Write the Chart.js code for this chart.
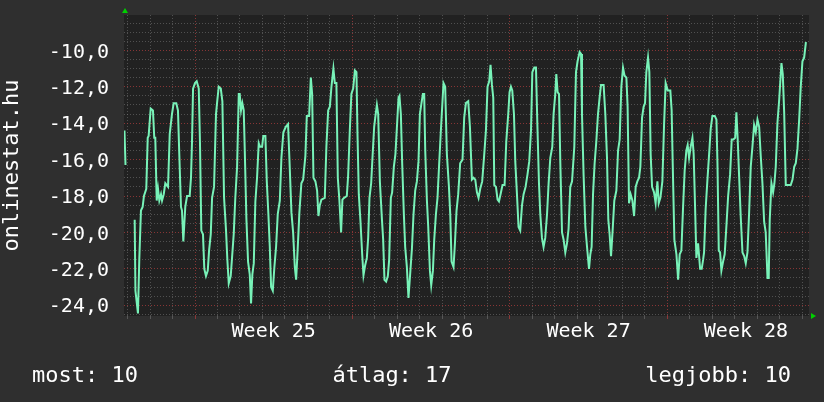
<!DOCTYPE html>
<html>
<head>
<meta charset="utf-8">
<title>onlinestat.hu</title>
<script src="https://cdn.jsdelivr.net/npm/chart.js"></script>
<style>
  html, body { margin: 0; padding: 0; background: #2f2f2f; }
  canvas { display: block; }
</style>
</head>
<body>
<canvas id="chart" width="824" height="402"></canvas>
<script>
/* === DONNEES (heures depuis le debut de la semaine 25) === */
const hours = [
  -75.3, -74.2, -73.5, -64.4, -63.6, -60.9, -59.5, -57.7, -55.9, -54.5, -52.0, -50.5, -49.5, -47.3, -44.9, -43.5,
  -42.4, -40.9, -39.5, -38.1, -36.3, -35.2, -33.4, -31.7, -28.8, -27.0, -24.6, -22.8, -20.0, -18.2, -16.8, -15.0,
  -13.9, -12.5, -10.4, -8.5, -5.7, -4.3, -3.2, -2.1, 0, 1.8, 4.0, 5.3, 6.7, 8.5, 9.9, 11.7,
  13.6, 15.0, 16.8, 18.2, 20.3, 22.4, 23.5, 25.3, 27.5, 29.2, 31.0, 33.1, 34.5, 36.0, 38.1, 39.5,
  41.3, 43.0, 44.9, 46.7, 47.7, 49.1, 50.5, 52.0, 53.1, 54.8, 56.6, 58.4, 59.8, 61.2, 62.7, 64.4,
  66.2, 68.0, 69.4, 71.6, 72.9, 75.1, 76.6, 78.3, 79.8, 81.2, 83.0, 84.7, 86.5, 88.3, 90.5, 92.2,
  94.3, 96.9, 99.3, 100.7, 102.9, 104.7, 106.5, 107.9, 109.3, 111.4, 113.5, 115.4, 117.8, 119.3, 121.8, 123.6,
  125.0, 126.4, 128.5, 130.3, 131.7, 133.2, 134.9, 138.5, 140.2, 142.1, 143.9, 145.6, 147.7, 149.2, 150.9, 152.4,
  154.1, 155.9, 157.3, 159.1, 162.0, 163.4, 165.2, 166.9, 168.8, 170.6, 172.3, 173.4, 174.8, 176.6, 178.4, 179.8,
  181.6, 183.4, 184.8, 186.2, 188.0, 189.4, 191.2, 192.6, 194.1, 195.5, 197.3, 199.4, 200.8, 202.2, 204.0, 205.8,
  207.2, 209.0, 210.4, 212.2, 213.9, 215.4, 217.2, 218.2, 219.7, 221.1, 222.9, 224.3, 226.1, 227.8, 229.6, 231.5,
  233.2, 235.0, 236.8, 238.5, 240.0, 241.7, 243.2, 244.6, 245.7, 247.5, 248.9, 250.7, 252.1, 253.9, 255.3, 257.1,
  258.8, 260.6, 262.4, 263.8, 265.2, 267.0, 268.8, 271.0, 272.4, 273.8, 275.9, 277.4, 279.1, 280.9, 283.0, 285.5,
  287.3, 289.1, 291.6, 293.4, 294.5, 295.5, 297.3, 299.1, 300.9, 302.6, 304.4, 306.5, 308.7, 310.5, 312.2, 314.0,
  315.4, 316.9, 318.3, 319.4, 321.2, 322.9, 324.4, 326.1, 328.2, 330.4, 332.2, 334.3, 335.7, 337.2, 338.6, 340.4,
  341.8, 343.6, 345.3, 347.1, 349.0, 350.7, 352.8, 354.9, 356.7, 358.6, 360.0, 362.1, 363.9, 365.3, 367.1, 368.5,
  370.3, 372.0, 373.8, 375.7, 377.4, 379.2, 381.3, 382.7, 384.5, 385.6, 387.0, 388.5, 389.9, 391.7, 393.4, 395.2,
  397.0, 398.7, 400.5, 402.4, 404.8, 406.6, 408.3, 410.5, 412.0, 413.0, 414.7, 416.6, 418.4, 420.5, 421.9, 423.3,
  424.8, 426.5, 428.3, 430.1, 431.8, 433.3, 436.1, 437.9, 439.7, 441.1, 442.5, 444.0, 445.7, 447.5, 449.7, 451.5,
  453.2, 455.0, 456.8, 458.5, 460.4, 461.7, 463.2, 464.9, 466.8, 468.6, 470.3, 472.1, 473.9, 475.3, 477.1, 478.8,
  480.3, 481.7, 483.5, 484.9, 486.3, 487.8, 489.9, 491.6, 493.5, 494.9, 496.7, 498.8, 500.6, 502.3, 504.5, 507.3,
  508.7, 509.8, 511.6, 513.8, 515.6, 517.3, 519.1, 520.9, 522.6, 524.4, 525.8, 527.3, 529.0, 530.9, 532.2, 533.7,
  535.1, 536.9, 539.1, 540.8, 542.3, 543.3, 545.0, 546.9, 548.7, 550.4, 552.2, 554.7, 556.5, 557.6, 559.0, 560.4,
  561.8, 563.6, 565.3, 567.2, 569.0, 571.1, 572.8, 574.6, 576.5, 577.8, 579.2, 580.7, 582.4, 584.3, 586.1, 587.8,
  589.6, 591.4, 593.1, 594.9, 596.7, 598.5, 600.3, 602.1, 603.8, 605.6, 607.4, 609.1, 611.0, 612.3, 613.4, 615.2,
  617.0, 618.4, 619.8, 621.6, 623.5, 624.8, 625.9, 627.3, 628.8, 630.5, 632.3, 634.1, 635.8, 637.7, 639.5, 641.2,
  643.0, 644.8, 646.5, 648.3, 650.1, 651.9, 652.9
];

const values = [
  -14.4, -16.3, null, -19.3, -23.2, -24.45, -21.5, -18.8, -18.6, -18.0, -17.6, -14.8, -14.7, -13.2, -13.3, -14.8,
  -14.8, -18.25, -17.6, -18.25, -17.9, -18.25, -17.9, -17.3, -17.5, -14.6, -13.5, -12.9, -12.9, -13.3, -15.7, -18.6,
  -18.8, -20.5, -18.6, -18.0, -18.0, -17.0, -15.0, -12.1, -11.8, -11.7, -12.1, -15.1, -19.9, -20.1, -22.0, -22.4,
  -22.1, -21.0, -20.1, -18.1, -17.5, -13.5, -12.9, -12.0, -12.1, -12.8, -18.1, -19.9, -21.5, -22.8, -22.4, -21.4,
  -20.1, -18.1, -16.4, -12.4, -12.4, -13.3, -12.9, -13.3, -15.5, -19.2, -21.6, -22.3, -23.9, -22.3, -21.7, -18.3,
  -17.0, -15.1, -15.3, -15.3, -14.7, -14.7, -17.2, -19.0, -20.8, -23.0, -23.2, -21.9, -20.8, -19.0, -18.25, -15.9,
  -14.5, -14.2, -14.05, -15.9, -18.9, -20.0, -21.9, -22.6, -21.2, -18.9, -17.3, -17.1, -15.8, -13.6, -13.6, -11.5,
  -12.4, -17.0, -17.2, -17.7, -19.1, -18.5, -18.2, -18.1, -15.3, -13.3, -13.1, -12.0, -11.0, -11.8, -11.8, -17.0,
  -18.25, -20.0, -18.2, -18.1, -18.0, -16.9, -14.4, -12.4, -12.1, -11.1, -11.2, -14.6, -17.9, -19.4, -21.2, -22.35,
  -21.8, -21.4, -20.3, -18.1, -17.3, -15.9, -14.2, -13.6, -13.0, -13.5, -17.2, -19.2, -20.4, -22.6, -22.7, -22.4,
  -21.5, -18.1, -17.8, -16.4, -15.7, -14.3, -12.6, -12.5, -13.5, -16.2, -19.0, -20.8, -21.9, -23.6, -22.3, -20.9,
  -19.0, -17.7, -17.2, -16.1, -13.5, -12.9, -12.4, -12.4, -15.5, -18.25, -19.7, -22.1, -22.9, -22.1, -20.4, -19.0,
  -18.1, -16.2, -14.4, -13.1, -11.8, -12.0, -15.7, -17.5, -19.0, -21.6, -21.9, -20.6, -18.8, -17.9, -16.2, -16.0,
  -13.7, -12.9, -12.8, -14.2, -15.7, -17.1, -17.0, -17.1, -17.8, -18.1, -17.6, -17.2, -15.7, -14.4, -12.0, -11.7,
  -10.8, -11.9, -12.6, -17.4, -17.5, -18.2, -18.3, -17.9, -17.4, -17.4, -15.0, -13.5, -12.3, -12.0, -12.2, -13.5,
  -16.1, -17.9, -19.7, -19.9, -18.5, -17.9, -17.5, -16.8, -16.1, -14.4, -11.2, -10.95, -10.95, -13.9, -17.3, -19.0,
  -20.3, -20.8, -20.3, -19.0, -17.3, -15.9, -15.3, -13.5, -12.4, -11.3, -12.3, -12.4, -16.2, -20.0, -20.4, -21.1,
  -20.6, -19.8, -17.5, -17.2, -15.3, -11.2, -10.6, -10.1, -10.2, -13.5, -16.8, -19.7, -20.8, -22.0, -21.2, -20.8,
  -17.9, -16.2, -15.0, -13.5, -12.6, -11.9, -11.9, -13.5, -15.9, -19.3, -20.1, -21.3, -19.9, -18.25, -17.7, -15.5,
  -14.9, -12.0, -10.95, -11.4, -11.5, -13.1, -18.4, -17.9, -18.25, -19.1, -17.5, -17.2, -17.0, -16.4, -13.7, -13.1,
  -12.9, -11.2, -10.4, -11.2, -15.7, -17.5, -17.8, -18.4, -17.2, -18.4, -18.1, -17.2, -14.1, -11.8, -12.2, -12.2,
  -13.3, -16.1, -20.4, -21.2, -22.6, -21.2, -21.0, -18.6, -16.6, -15.5, -15.2, -15.9, -15.3, -14.8, -15.7, -18.6,
  -21.4, -20.6, -22.0, -22.0, -21.5, -21.1, -18.7, -17.1, -15.7, -14.3, -13.6, -13.6, -13.8, -16.2, -21.0, -21.1,
  -22.1, -21.6, -21.2, -19.6, -18.0, -16.8, -14.9, -14.9, -14.8, -13.4, -14.9, -16.9, -19.1, -21.1, -21.3, -21.7,
  -21.1, -18.9, -16.4, -15.3, -14.1, -14.5, -13.8, -14.2, -15.8, -17.3, -19.4, -20.0, -22.5, -22.5, -19.3, -17.3,
  -17.8, -17.3, -16.4, -14.0, -12.7, -11.6, -10.7, -11.3, -13.4, -17.4, -17.4, -17.4, -17.4, -17.1, -16.4, -16.2,
  -15.4, -13.8, -12.0, -10.6, -10.4, -9.6, -9.6
];

const weekStarts = [0, 168, 336, 504];
const weekLabels = ["Week 25", "Week 26", "Week 27", "Week 28"];
const yTickValues = [-24, -22, -20, -18, -16, -14, -12, -10];
const yTickLabels = ["-24,0", "-22,0", "-20,0", "-18,0", "-16,0", "-14,0", "-12,0", "-10,0"];
const footerTexts = ["most: 10", "átlag: 17", "legjobb: 10"];

/* === COULEURS === */
const MONO = "'DejaVu Sans Mono', monospace";
const gridGray = "rgba(120,120,120,0.55)";
const gridRed = "rgba(170,60,60,0.75)";

/* === FOND + TEXTES DU BAS + FLECHES === */
const decor = {
  id: "decor",
  beforeDraw(chart) {
    const { ctx, chartArea: a } = chart;
    ctx.save();
    ctx.fillStyle = "#2f2f2f";
    ctx.fillRect(0, 0, chart.width, chart.height);
    ctx.fillStyle = "#212121";
    ctx.fillRect(a.left, a.top, a.right - a.left, a.bottom - a.top);
    ctx.restore();
  },
  afterDraw(chart) {
    const { ctx, chartArea: a } = chart;
    ctx.save();
    // fleches vertes des axes
    ctx.fillStyle = "#00d000";
    ctx.beginPath();
    ctx.moveTo(a.left - 2, a.top - 2);
    ctx.lineTo(a.left + 4, a.top - 2);
    ctx.lineTo(a.left + 1, a.top - 7);
    ctx.fill();
    ctx.beginPath();
    ctx.moveTo(a.right + 2, a.bottom - 3);
    ctx.lineTo(a.right + 2, a.bottom + 3);
    ctx.lineTo(a.right + 7, a.bottom);
    ctx.fill();

    // legende texte
    ctx.font = "22px " + MONO;
    ctx.fillStyle = "#ffffff";
    ctx.textBaseline = "alphabetic";
    ctx.textAlign = "left";
    ctx.fillText(footerTexts[0], 32, 382);
    ctx.textAlign = "center";
    ctx.fillText(footerTexts[1], 392, 382);
    ctx.textAlign = "right";
    ctx.fillText(footerTexts[2], 791, 382);
    ctx.restore();
  }
};

const points = hours.map((h, i) => ({ x: h, y: values[i] }));

new Chart(document.getElementById("chart"), {
  type: "line",
  data: {
    datasets: [{
      data: points,
      borderColor: "#78f2b8",
      borderWidth: 2,
      pointRadius: 0,
      tension: 0,
      spanGaps: false
    }]
  },
  options: {
    responsive: false,
    animation: false,
    devicePixelRatio: 1,
    layout: { padding: { left: 0, right: 15, top: 15, bottom: 0 } },
    plugins: { legend: { display: false }, tooltip: { enabled: false } },
    scales: {
      x: {
        type: "linear",
        min: -75.8,
        max: 655.3,
        afterBuildTicks: (scale) => {
          const ticks = [];
          for (let h = -72; h <= 648; h += 24) ticks.push({ value: h });
          weekStarts.forEach((w) => ticks.push({ value: w + 84 }));
          ticks.sort((p, q) => p.value - q.value);
          scale.ticks = ticks;
        },
        afterFit: (scale) => {
          scale.height = 86;
          scale.paddingLeft = 0;
          scale.paddingRight = 0;
        },
        grid: {
          color: (c) => {
            if (!c.tick) return gridGray;
            const v = c.tick.value;
            if (v % 24 !== 0) return "transparent";
            return v % 168 === 0 ? gridRed : gridGray;
          },
          lineWidth: 1,
          drawTicks: true,
          tickLength: 3
        },
        border: { display: false, dash: [1, 2] },
        ticks: {
          autoSkip: false,
          maxRotation: 0,
          padding: 1,
          color: "#ffffff",
          font: { family: MONO, size: 20 },
          callback: (v) => {
            const i = weekStarts.indexOf(v - 84);
            return i >= 0 ? weekLabels[i] : "";
          }
        }
      },
      y: {
        min: -24.59,
        max: -8.06,
        afterBuildTicks: (scale) => {
          const ticks = [];
          for (let i = -49; i <= -17; i++) ticks.push({ value: i / 2 });
          scale.ticks = ticks;
        },
        afterFit: (scale) => {
          scale.width = 124;
          scale.paddingTop = 0;
          scale.paddingBottom = 0;
        },
        grid: {
          color: (c) => {
            if (!c.tick) return gridGray;
            const v = c.tick.value;
            return (Number.isInteger(v) && v % 2 === 0) ? gridRed : gridGray;
          },
          lineWidth: 1,
          drawTicks: false
        },
        border: { display: false, dash: [1, 2] },
        ticks: {
          autoSkip: false,
          padding: 15,
          labelOffset: 2,
          color: "#ffffff",
          font: { family: MONO, size: 20 },
          callback: (v) => {
            const i = yTickValues.indexOf(v);
            return i >= 0 ? yTickLabels[i] : "";
          }
        },
        title: {
          display: true,
          text: "onlinestat.hu",
          color: "#ffffff",
          font: { family: MONO, size: 22, lineHeight: 1.0 },
          padding: { top: 1, bottom: 0 }
        }
      }
    }
  },
  plugins: [decor]
});
</script>
</body>
</html>
